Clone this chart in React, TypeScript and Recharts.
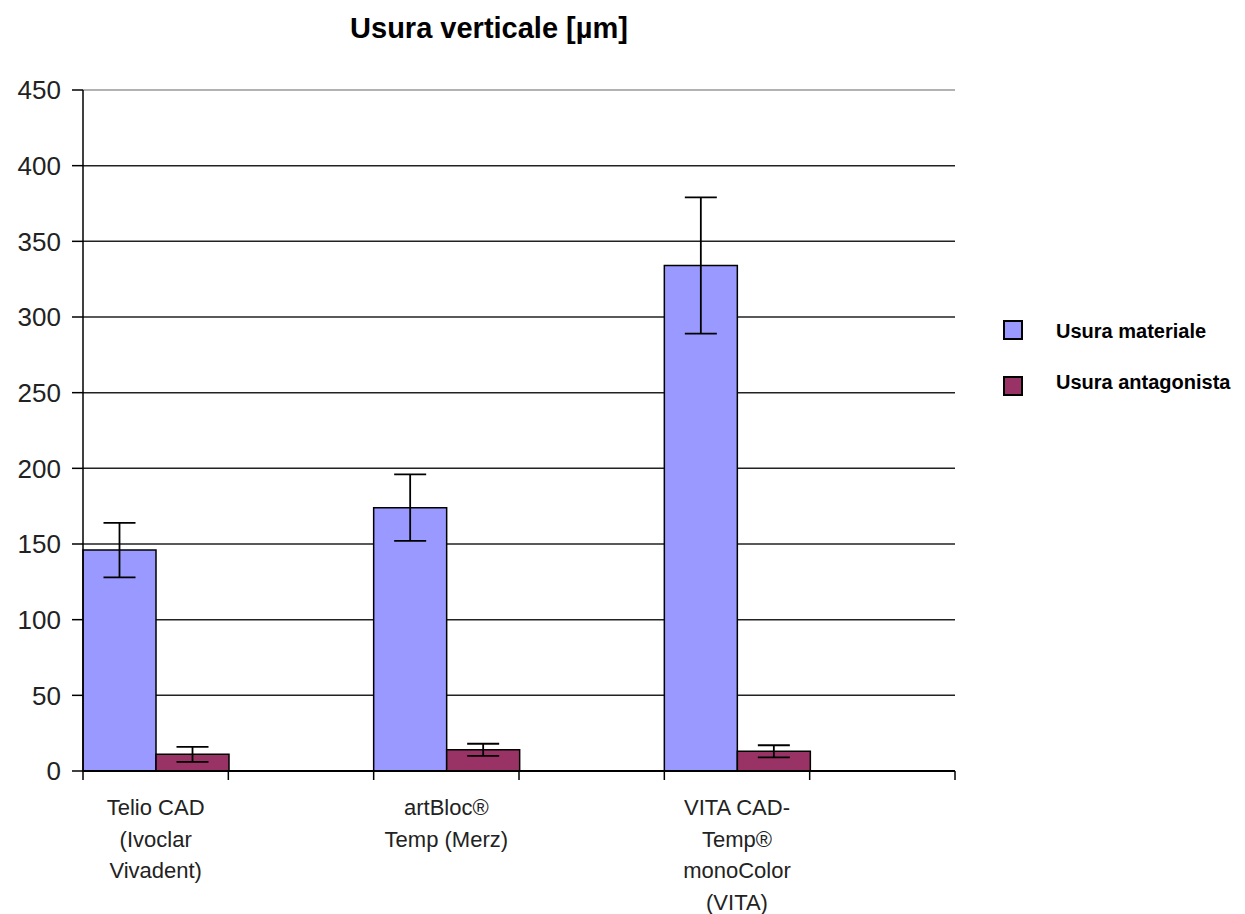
import React from "react";
import {
  BarChart,
  Bar,
  XAxis,
  YAxis,
  CartesianGrid,
  ErrorBar,
  ReferenceLine,
} from "recharts";

// every second category is an empty row, as in the original sheet
const categories = [
  "Telio CAD\n(Ivoclar\nVivadent)",
  "",
  "artBloc®\nTemp (Merz)",
  "",
  "VITA CAD-\nTemp®\nmonoColor\n(VITA)",
  "",
];
const materiale = [146, null, 174, null, 334, null];
const materialeErr = [18, null, 22, null, 45, null];
const antagonista = [11, null, 14, null, 13, null];
const antagonistaErr = [5, null, 4, null, 4, null];
const yTicks = [0, 50, 100, 150, 200, 250, 300, 350, 400, 450];

const series = [
  { key: "mat", name: "Usura materiale", color: "#9999FF" },
  { key: "ant", name: "Usura antagonista", color: "#993366" },
];

const data = categories.map((c, i) => ({
  name: c,
  mat: materiale[i],
  matErr: materialeErr[i],
  ant: antagonista[i],
  antErr: antagonistaErr[i],
}));

const FONT = "'Liberation Sans', Arial, sans-serif";
const W = 1245;
const H = 914;
const M = { top: 90, right: 290, bottom: 13, left: 0 };
const Y_W = 83;
const BAND = (W - M.right - M.left - Y_W) / categories.length;

const CatTick = (props: any) => {
  const { x, y, payload, index } = props;
  const lines = String(payload.value || "").split("\n").filter(Boolean);
  const last = index === categories.length - 1;
  return (
    <g>
      <line x1={x - BAND / 2} x2={x - BAND / 2} y1={y} y2={y + 9} stroke="#000" strokeWidth={1.5} />
      {last && (
        <line x1={x + BAND / 2} x2={x + BAND / 2} y1={y} y2={y + 9} stroke="#000" strokeWidth={1.5} />
      )}
      <text
        x={x}
        y={y + 44}
        textAnchor="middle"
        fontFamily={FONT}
        fontSize={22}
        fill="#222"
      >
        {lines.map((l, i) => (
          <tspan key={i} x={x} dy={i === 0 ? 0 : 31.5}>
            {l}
          </tspan>
        ))}
      </text>
    </g>
  );
};

export default function App() {
  return (
    <div
      style={{
        position: "relative",
        width: W,
        height: H,
        background: "#fff",
        fontFamily: FONT,
      }}
    >
      <style>{`body{margin:0;overflow:hidden}`}</style>
      <div
        style={{
          position: "absolute",
          left: 0,
          width: 978,
          top: 12,
          textAlign: "center",
          fontSize: 29,
          lineHeight: "32px",
          fontWeight: "bold",
          color: "#000",
        }}
      >
        Usura verticale [µm]
      </div>
      <BarChart
        width={W}
        height={H}
        data={data}
        margin={M}
        barCategoryGap={0}
        barGap={0}
      >
        <CartesianGrid
          vertical={false}
          stroke="#222"
          strokeWidth={1.5}
          horizontalValues={[50, 100, 150, 200, 250, 300, 350, 400]}
        />
        <ReferenceLine y={450} stroke="#999" strokeWidth={1.5} />
        <XAxis
          dataKey="name"
          height={130}
          interval={0}
          axisLine={{ stroke: "#000", strokeWidth: 2 }}
          tickLine={false}
          tickSize={0}
          tickMargin={0}
          tick={<CatTick />}
        />
        <YAxis
          domain={[0, 450]}
          ticks={yTicks}
          width={Y_W}
          axisLine={{ stroke: "#000", strokeWidth: 1.5 }}
          tickLine={{ stroke: "#000", strokeWidth: 1.5 }}
          tickSize={11}
          tickMargin={11}
          tick={{ fontFamily: FONT, fontSize: 26, fill: "#222" }}
        />
        <YAxis
          yAxisId="right"
          orientation="right"
          width={0}
          tick={false}
          tickLine={false}
          axisLine={{ stroke: "#999", strokeWidth: 1.5 }}
        />
        <Bar
          dataKey="mat"
          name={series[0].name}
          fill={series[0].color}
          stroke="#000"
          strokeWidth={1.5}
          isAnimationActive={false}
        >
          <ErrorBar dataKey="matErr" width={16} stroke="#000" strokeWidth={1.8} />
        </Bar>
        <Bar
          dataKey="ant"
          name={series[1].name}
          fill={series[1].color}
          stroke="#000"
          strokeWidth={1.5}
          isAnimationActive={false}
        >
          <ErrorBar dataKey="antErr" width={16} stroke="#000" strokeWidth={1.8} />
        </Bar>
      </BarChart>
      {series.map((s, i) => (
        <React.Fragment key={s.key}>
          <div
            style={{
              position: "absolute",
              left: 1003,
              top: 320 + i * 56,
              width: 16,
              height: 16,
              background: s.color,
              border: "2px solid #000",
            }}
          />
          <div
            style={{
              position: "absolute",
              left: 1056,
              top: 319 + i * 51,
              fontSize: 20,
              lineHeight: "24px",
              fontWeight: "bold",
              color: "#000",
              whiteSpace: "nowrap",
            }}
          >
            {s.name}
          </div>
        </React.Fragment>
      ))}
    </div>
  );
}
